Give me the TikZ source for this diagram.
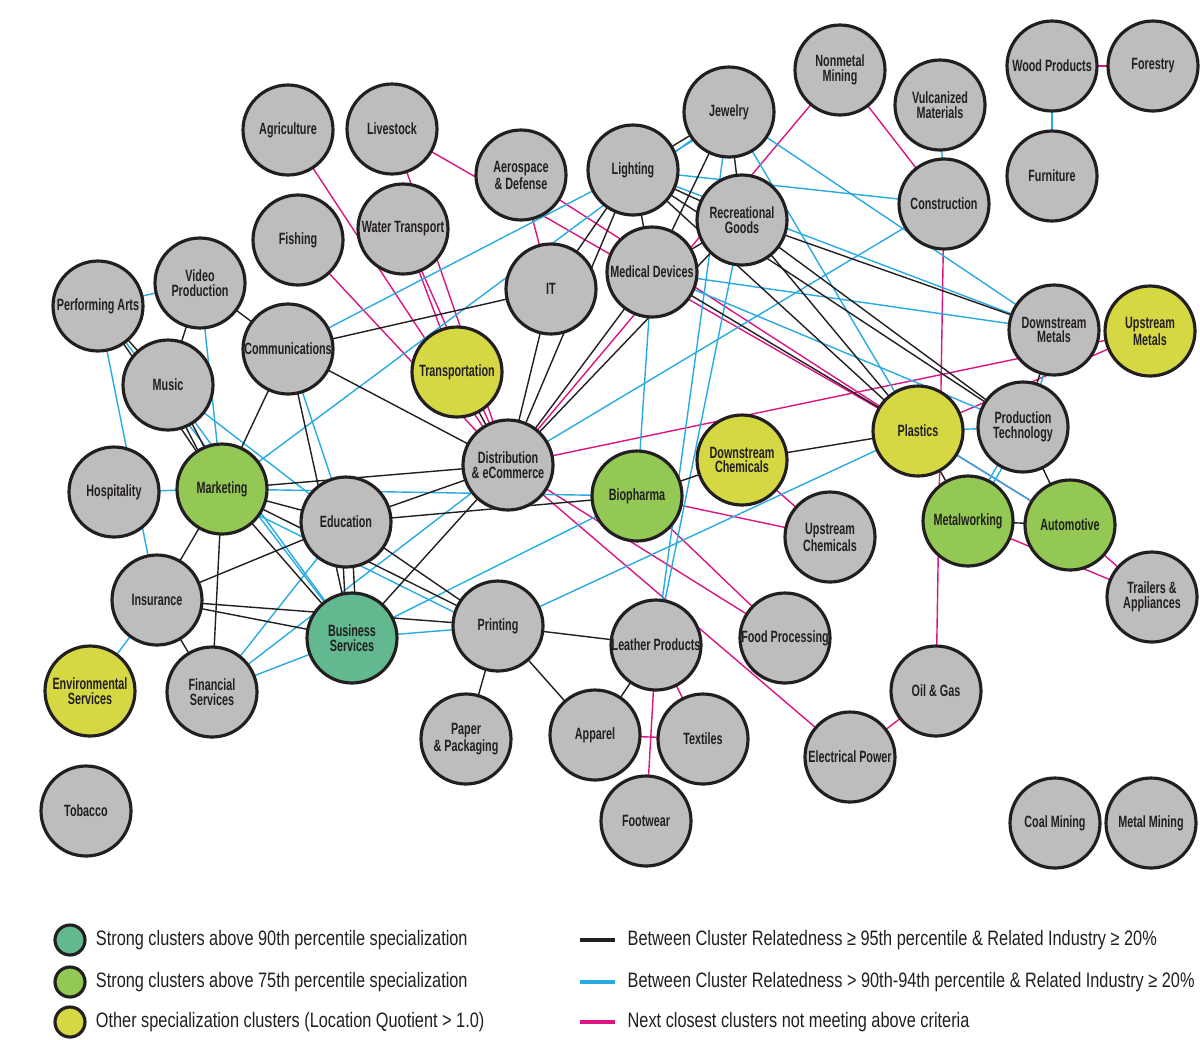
\documentclass[tikz,border=0pt]{standalone}
\usepackage{fontspec}
\setmainfont{Liberation Sans}
\newfontfamily\clufont{Liberation Sans}[FakeStretch=0.66]
\newfontfamily\keyfont{Liberation Sans}[FakeStretch=0.78]
\usepackage{tikz}
\usetikzlibrary{positioning, backgrounds}
\definecolor{outline}{RGB}{35,31,32}
\definecolor{clustergray}{RGB}{190,189,190}
\definecolor{strongteal}{RGB}{98,185,143}
\definecolor{stronggreen}{RGB}{146,200,83}
\definecolor{specyellow}{RGB}{213,216,66}
\definecolor{linkblack}{RGB}{35,31,32}
\definecolor{linkcyan}{RGB}{41,171,226}
\definecolor{linkmagenta}{RGB}{217,22,129}

\begin{document}
\begin{tikzpicture}[x=0.02cm, y=-0.02cm,
    clu/.style={circle, draw=outline, line width=1.8pt, fill=clustergray, minimum size=1.8cm, inner sep=0pt, align=center, text=outline, font=\clufont\bfseries\fontsize{9.3}{8.4}\selectfont},
    top90/.style={clu, fill=strongteal},
    top75/.style={clu, fill=stronggreen},
    lq/.style={clu, fill=specyellow},
    blk/.style={linkblack, line width=0.8pt},
    cyn/.style={linkcyan, line width=0.8pt},
    mag/.style={linkmagenta, line width=0.8pt},
    keydot/.style={circle, draw=outline, line width=1.8pt, minimum size=0.6cm, inner sep=0pt},
    keybar/.style={rectangle, minimum width=0.7cm, minimum height=2.5pt, inner sep=0pt},
    keytxt/.style={anchor=west, inner sep=0pt, text=outline, font=\keyfont\fontsize{11.9}{14}\selectfont}
]
\useasboundingbox (0,0) rectangle (1200,1039);

% clusters
\node[clu] (agri) at (288,130) {Agriculture};
\node[clu] (live) at (392,129) {Livestock};
\node[clu] (aero) at (521,175) {Aerospace\\\& Defense};
\node[clu] (light) at (633,170) {Lighting};
\node[clu] (jewel) at (729,112) {Jewelry};
\node[clu] (nonmet) at (840,70) {Nonmetal\\Mining};
\node[clu] (vulc) at (940,105) {Vulcanized\\Materials};
\node[clu] (wood) at (1052,66) {Wood Products};
\node[clu] (forest) at (1153,66) {Forestry};
\node[clu] (furn) at (1052,176) {Furniture};
\node[clu] (constr) at (944,204) {Construction};
\node[clu] (recr) at (742,220) {Recreational\\Goods};
\node[clu] (fish) at (298,240) {Fishing};
\node[clu] (water) at (403,229) {Water Transport};
\node[clu] (it) at (551,289) {IT};
\node[clu] (med) at (652,272) {Medical Devices};
\node[clu] (perf) at (98,306) {Performing Arts};
\node[clu] (video) at (200,283) {Video\\Production};
\node[clu] (comm) at (288,349) {Communications};
\node[clu] (music) at (168,385) {Music};
\node[lq] (transp) at (457,372) {Transportation};
\node[clu] (dist) at (508,465) {Distribution\\\& eCommerce};
\node[clu] (dsmet) at (1054,330) {Downstream\\Metals};
\node[lq] (usmet) at (1150,331) {Upstream\\Metals};
\node[lq] (plast) at (918,431) {Plastics};
\node[clu] (prod) at (1023,427) {Production\\Technology};
\node[clu] (hosp) at (114,492) {Hospitality};
\node[top75] (mkt) at (222,489) {Marketing};
\node[clu] (edu) at (346,522) {Education};
\node[top75] (bio) at (637,496) {Biopharma};
\node[lq] (dschem) at (742,460) {Downstream\\Chemicals};
\node[clu] (uschem) at (830,537) {Upstream\\Chemicals};
\node[top75] (metw) at (968,521) {Metalworking};
\node[top75] (auto) at (1070,525) {Automotive};
\node[clu] (trail) at (1152,597) {Trailers \&\\Appliances};
\node[clu] (ins) at (157,600) {Insurance};
\node[top90] (bus) at (352,638) {Business\\Services};
\node[clu] (print) at (498,626) {Printing};
\node[clu] (leath) at (656,645) {Leather Products};
\node[clu] (food) at (785,638) {Food Processing};
\node[clu] (oil) at (936,691) {Oil \& Gas};
\node[lq] (envs) at (90,691) {Environmental\\Services};
\node[clu] (fin) at (212,692) {Financial\\Services};
\node[clu] (paper) at (466,739) {Paper\\\& Packaging};
\node[clu] (appar) at (595,735) {Apparel};
\node[clu] (text) at (703,739) {Textiles};
\node[clu] (foot) at (646,821) {Footwear};
\node[clu] (elec) at (850,757) {Electrical Power};
\node[clu] (tob) at (86,811) {Tobacco};
\node[clu] (coal) at (1055,823) {Coal Mining};
\node[clu] (metm) at (1151,823) {Metal Mining};

% links, under the circles
\begin{scope}[on background layer]
% next closest
\draw[mag] (agri.center) -- (dist.center);
\draw[mag] (fish.center) -- (dist.center);
\draw[mag] (live.center) -- (dist.center);
\draw[mag] (water.center) -- (transp.center);
\draw[mag] (water.center) -- (dist.center);
\draw[mag] (live.center) -- (plast.center);
\draw[mag] (aero.center) -- (plast.center);
\draw[mag] (aero.center) -- (it.center);
\draw[mag] (dist.center) -- (nonmet.center);
\draw[mag] (nonmet.center) -- (constr.center);
\draw[mag] (constr.center) -- (oil.center);
\draw[mag] (oil.center) -- (elec.center);
\draw[mag] (dist.center) -- (elec.center);
\draw[mag] (dist.center) -- (food.center);
\draw[mag] (bio.center) -- (food.center);
\draw[mag] (bio.center) -- (uschem.center);
\draw[mag] (dschem.center) -- (uschem.center);
\draw[mag] (dist.center) -- (usmet.center);
\draw[mag] (plast.center) -- (usmet.center);
\draw[mag] (plast.center) -- (auto.center);
\draw[mag] (auto.center) -- (trail.center);
\draw[mag] (metw.center) -- (trail.center);
\draw[mag] (leath.center) -- (text.center);
\draw[mag] (leath.center) -- (foot.center);
\draw[mag] (appar.center) -- (text.center);
\draw[mag] (wood.center) -- (forest.center);
% 90th-94th percentile
\draw[cyn] (perf.center) -- (video.center);
\draw[cyn] (perf.center) -- (ins.center);
\draw[cyn] (perf.center) -- (bus.center);
\draw[cyn] (video.center) -- (mkt.center);
\draw[cyn] (music.center) -- (edu.center);
\draw[cyn] (music.center) -- (bus.center);
\draw[cyn] (comm.center) -- (light.center);
\draw[cyn] (comm.center) -- (edu.center);
\draw[cyn] (mkt.center) -- (jewel.center);
\draw[cyn] (mkt.center) -- (hosp.center);
\draw[cyn] (mkt.center) -- (bio.center);
\draw[cyn] ([shift={(0,8)}]mkt.center) -- ([shift={(0,8)}]print.center);
\draw[cyn] (fin.center) -- (edu.center);
\draw[cyn] (fin.center) -- (dist.center);
\draw[cyn] (fin.center) -- (bus.center);
\draw[cyn] (ins.center) -- (envs.center);
\draw[cyn] (bus.center) -- (print.center);
\draw[cyn] (bus.center) -- (bio.center);
\draw[cyn] (print.center) -- (plast.center);
\draw[cyn] (bio.center) -- (med.center);
\draw[cyn] (leath.center) -- (recr.center);
\draw[cyn] (leath.center) -- (jewel.center);
\draw[cyn] (light.center) -- (constr.center);
\draw[cyn] (light.center) -- (dsmet.center);
\draw[cyn] ([shift={(3,5)}]light.center) -- ([shift={(3,5)}]jewel.center);
\draw[cyn] (jewel.center) -- (dsmet.center);
\draw[cyn] (jewel.center) -- (plast.center);
\draw[cyn] (med.center) -- (dsmet.center);
\draw[cyn] (med.center) -- (prod.center);
\draw[cyn] (dist.center) -- (constr.center);
\draw[cyn] (vulc.center) -- (constr.center);
\draw[cyn] (wood.center) -- (furn.center);
\draw[cyn] (plast.center) -- (prod.center);
\draw[cyn] (plast.center) -- (auto.center);
\draw[cyn] ([shift={(-3,0)}]prod.center) -- ([shift={(-3,0)}]metw.center);
\draw[cyn] ([shift={(3,0)}]prod.center) -- ([shift={(3,0)}]metw.center);
\draw[cyn] ([shift={(4,0)}]dsmet.center) -- ([shift={(4,0)}]prod.center);
% 95th percentile
\draw[blk] (perf.center) -- (music.center);
\draw[blk] (perf.center) -- (mkt.center);
\draw[blk] (video.center) -- (music.center);
\draw[blk] (video.center) -- (comm.center);
\draw[blk] ([shift={(-4,0)}]music.center) -- ([shift={(-4,0)}]mkt.center);
\draw[blk] ([shift={(4,0)}]music.center) -- ([shift={(4,0)}]mkt.center);
\draw[blk] (comm.center) -- (mkt.center);
\draw[blk] (comm.center) -- (bus.center);
\draw[blk] (comm.center) -- (dist.center);
\draw[blk] (comm.center) -- (it.center);
\draw[blk] (mkt.center) -- (edu.center);
\draw[blk] (mkt.center) -- (print.center);
\draw[blk] (mkt.center) -- (dist.center);
\draw[blk] (mkt.center) -- (bus.center);
\draw[blk] (mkt.center) -- (ins.center);
\draw[blk] (mkt.center) -- (fin.center);
\draw[blk] (ins.center) -- (edu.center);
\draw[blk] (ins.center) -- (bus.center);
\draw[blk] (ins.center) -- (print.center);
\draw[blk] (ins.center) -- (fin.center);
\draw[blk] (edu.center) -- (dist.center);
\draw[blk] (edu.center) -- (bio.center);
\draw[blk] ([shift={(-5,0)}]edu.center) -- ([shift={(-5,0)}]bus.center);
\draw[blk] ([shift={(5,0)}]edu.center) -- ([shift={(5,0)}]bus.center);
\draw[blk] (edu.center) -- (print.center);
\draw[blk] (bus.center) -- (dist.center);
\draw[blk] (transp.center) -- (dist.center);
\draw[blk] (print.center) -- (leath.center);
\draw[blk] (print.center) -- (paper.center);
\draw[blk] (print.center) -- (appar.center);
\draw[blk] (leath.center) -- (appar.center);
\draw[blk] (dist.center) -- (it.center);
\draw[blk] (dist.center) -- (light.center);
\draw[blk] (dist.center) -- (med.center);
\draw[blk] (dist.center) -- (recr.center);
\draw[blk] (it.center) -- (light.center);
\draw[blk] (light.center) -- (med.center);
\draw[blk] (light.center) -- (jewel.center);
\draw[blk] (light.center) -- (recr.center);
\draw[blk] (light.center) -- (prod.center);
\draw[blk] (light.center) -- (plast.center);
\draw[blk] (jewel.center) -- (recr.center);
\draw[blk] (jewel.center) -- (med.center);
\draw[blk] (med.center) -- (recr.center);
\draw[blk] (med.center) -- (plast.center);
\draw[blk] (recr.center) -- (dsmet.center);
\draw[blk] (recr.center) -- (prod.center);
\draw[blk] (recr.center) -- (plast.center);
\draw[blk] (bio.center) -- (dschem.center);
\draw[blk] (dschem.center) -- (plast.center);
\draw[blk] (plast.center) -- (metw.center);
\draw[blk] (metw.center) -- (auto.center);
\draw[blk] (prod.center) -- (auto.center);
\draw[blk] (dsmet.center) -- (prod.center);
\end{scope}

% legend
\node[keydot, fill=strongteal] (k90) at (70,940) {};
\node[keydot, fill=stronggreen] (k75) at (70,982) {};
\node[keydot, fill=specyellow] (klq) at (70,1022) {};
\node[keytxt, right=0.18cm of k90] {Strong clusters above 90th percentile specialization};
\node[keytxt, right=0.18cm of k75] {Strong clusters above 75th percentile specialization};
\node[keytxt, right=0.18cm of klq] {Other specialization clusters (Location Quotient > 1.0)};
\node[keybar, fill=linkblack] (kblk) at (597,940) {};
\node[keybar, fill=linkcyan] (kcyn) at (597,982) {};
\node[keybar, fill=linkmagenta] (kmag) at (597,1022) {};
\node[keytxt, right=0.25cm of kblk] {Between Cluster Relatedness ≥ 95th percentile \& Related Industry ≥ 20\%};
\node[keytxt, right=0.25cm of kcyn] {Between Cluster Relatedness > 90th-94th percentile \& Related Industry ≥ 20\%};
\node[keytxt, right=0.25cm of kmag] {Next closest clusters not meeting above criteria};
\end{tikzpicture}
\end{document}
